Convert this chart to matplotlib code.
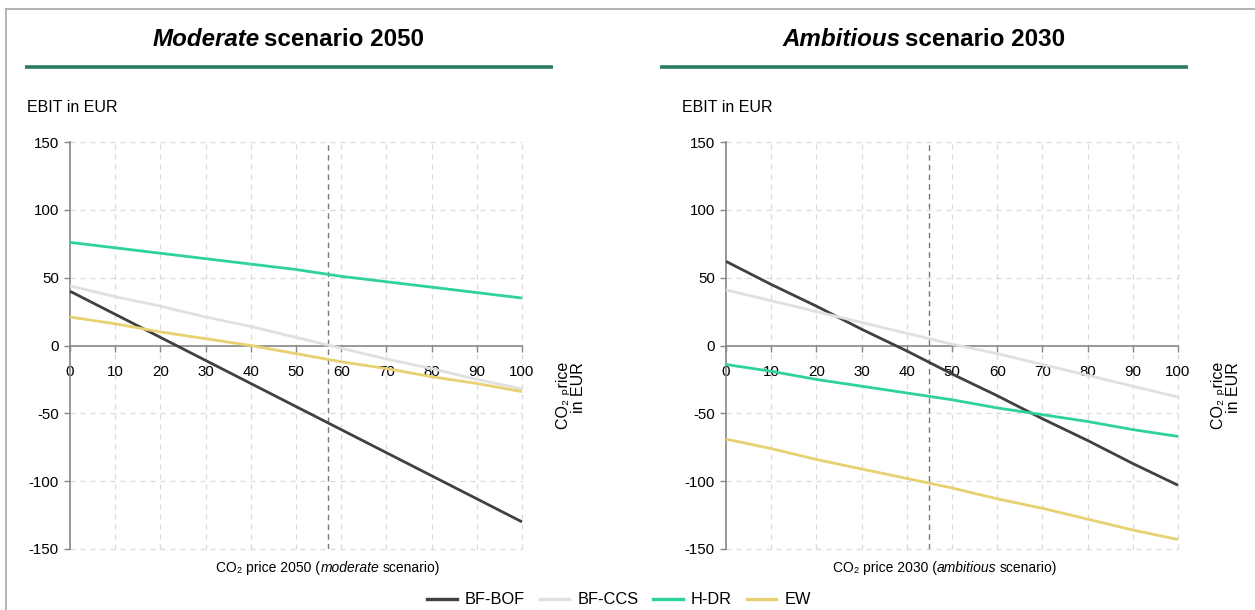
import matplotlib
matplotlib.use("Agg")
import matplotlib.pyplot as plt
from matplotlib.lines import Line2D

FONT = ["Liberation Sans", "DejaVu Sans"]
plt.rcParams["font.family"] = FONT
plt.rcParams["axes.unicode_minus"] = False

# CO2 price steps (EUR)
prices = [0, 10, 20, 30, 40, 50, 60, 70, 80, 90, 100]

# EBIT in EUR, moderate scenario 2050
mod_bf_bof = [40, 23, 6, -11, -28, -45, -62, -79, -96, -113, -130]
mod_bf_ccs = [44, 36, 29, 21, 14, 6, -2, -10, -17, -25, -32]
mod_h_dr = [76, 72, 68, 64, 60, 56, 51, 47, 43, 39, 35]
mod_ew = [21, 16, 10, 5, 0, -6, -12, -17, -23, -28, -34]
mod_price_marker = 57

# EBIT in EUR, ambitious scenario 2030
amb_bf_bof = [62, 45, 29, 12, -4, -21, -37, -54, -70, -87, -103]
amb_bf_ccs = [41, 33, 25, 17, 9, 1, -6, -14, -22, -30, -38]
amb_h_dr = [-14, -19, -25, -30, -35, -40, -46, -51, -56, -62, -67]
amb_ew = [-69, -76, -84, -91, -98, -105, -113, -120, -128, -136, -143]
amb_price_marker = 45

series_names = ["BF-BOF", "BF-CCS", "H-DR", "EW"]
series_colors = ["#404040", "#e0e0e0", "#2dd39a", "#e8d170"]
y_ticks = [-150, -100, -50, 0, 50, 100, 150]
x_ticks = prices

W, H = 1255, 610
fig = plt.figure(figsize=(W / 100, H / 100), dpi=100)


def fx(px):
    return px / W


def fy(py):
    return 1 - py / H


renderer = fig.canvas.get_renderer()


def seg_width(s, **kw):
    probe = fig.text(0, 0, s, **kw)
    w = probe.get_window_extent(renderer).width
    probe.remove()
    return w


def gap_list(segments, gap):
    return [0 if s.endswith("(") else gap for s, _ in segments]


def mixed_text(cx, cy, segments, size, gap, weight="normal"):
    """Draw a line made of (text, style) pieces centred at pixel (cx, cy)."""
    widths = [seg_width(s, fontsize=size, fontweight=weight, fontstyle=st)
              for s, st in segments]
    gaps = gap_list(segments, gap)
    total = sum(widths) + sum(gaps[:-1])
    x = cx - total / 2
    for (s, st), w, g in zip(segments, widths, gaps):
        fig.text(fx(x), fy(cy), s, fontsize=size, fontweight=weight,
                 fontstyle=st, ha="left", va="center")
        x += w + g


panels = [
    dict(x0=70, x1=522, data=[mod_bf_bof, mod_bf_ccs, mod_h_dr, mod_ew],
         marker=mod_price_marker,
         title=[("Moderate", "italic"), ("scenario 2050", "normal")], tcx=288,
         rule=(25, 553), ylab_x=27,
         xlab=[("CO\u2082 price 2050 (", "normal"), ("moderate", "italic"),
               ("scenario)", "normal")], xcx=328,
         side_x=571),
    dict(x0=726, x1=1178, data=[amb_bf_bof, amb_bf_ccs, amb_h_dr, amb_ew],
         marker=amb_price_marker,
         title=[("Ambitious", "italic"), ("scenario 2030", "normal")], tcx=924,
         rule=(660, 1188), ylab_x=682,
         xlab=[("CO\u2082 price 2030 (", "normal"), ("ambitious", "italic"),
               ("scenario)", "normal")], xcx=945,
         side_x=1226),
]

top_px, bot_px = 142, 549
axis_grey = "#868686"
grid_grey = "#d9d9d9"

for p in panels:
    ax = fig.add_axes([fx(p["x0"]), fy(bot_px), fx(p["x1"]) - fx(p["x0"]),
                       fy(top_px) - fy(bot_px)])
    ax.set_xlim(0, 100)
    ax.set_ylim(-150, 150)
    ax.patch.set_alpha(0)

    for gx in x_ticks[1:]:
        ax.axvline(gx, color=grid_grey, lw=0.9, ls=(0, (4, 4)), zorder=0,
                   clip_on=False)
    for gy in y_ticks:
        if gy != 0:
            ax.axhline(gy, color=grid_grey, lw=0.9, ls=(0, (4, 4)), zorder=0,
                       clip_on=False)

    for vals, col in zip(p["data"], series_colors):
        ax.plot(prices, vals, color=col, lw=2.0, zorder=3, clip_on=False,
                solid_capstyle="butt")

    ax.axvline(p["marker"], color="#7a7a7a", lw=1.0, ls=(0, (4, 3)), zorder=2)

    for side in ("top", "right"):
        ax.spines[side].set_visible(False)
    ax.spines["bottom"].set_position(("data", 0))
    for side in ("left", "bottom"):
        ax.spines[side].set_color(axis_grey)
        ax.spines[side].set_linewidth(1.2)
    ax.set_xticks(x_ticks)
    ax.set_yticks(y_ticks)
    ax.tick_params(axis="both", colors=axis_grey, labelcolor="black",
                   length=4, width=1.0, labelsize=10.8)
    ax.tick_params(axis="x", pad=10)
    ax.tick_params(axis="y", pad=4)

    mixed_text(p["tcx"], 40, p["title"], 17.4, 4, weight="bold")
    fig.add_artist(Line2D([fx(p["rule"][0]), fx(p["rule"][1])], [fy(67), fy(67)],
                          color="#2b7d5f", lw=2.6, solid_capstyle="butt"))
    fig.text(fx(p["ylab_x"]), fy(107), "EBIT in EUR", fontsize=11.5,
             ha="left", va="center")
    mixed_text(p["xcx"], 568, p["xlab"], 10, 3)
    fig.text(fx(p["side_x"]), fy(362), "CO\u2082 \u209arice\nin EUR",
             rotation=90, fontsize=11.5, ha="center", va="top",
             multialignment="right", linespacing=0.95, family=FONT)

# outer frame lines (top and left)
fig.add_artist(Line2D([fx(6), 1], [fy(9), fy(9)], color="#a6a6a6", lw=1.2))
fig.add_artist(Line2D([fx(6), fx(6)], [fy(9), 0], color="#a6a6a6", lw=1.2))

handles = [Line2D([], [], color=c, lw=2.4) for c in series_colors]
fig.legend(handles, series_names, loc="center",
           bbox_to_anchor=(fx(619), fy(600)), ncol=4, frameon=False,
           fontsize=11.8, handlelength=1.8, handletextpad=0.5,
           columnspacing=0.9, borderaxespad=0, borderpad=0)

fig.savefig("out.png", dpi=100)
